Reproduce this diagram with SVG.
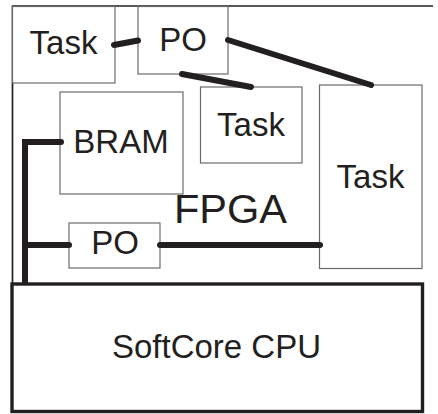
<svg xmlns="http://www.w3.org/2000/svg" width="438" height="414" viewBox="0 0 438 414">
<style>
.box{fill:#fff;stroke:#6b6b6b;stroke-width:1.2}
.lbl{font-family:"Liberation Sans",Arial,sans-serif;font-size:33px;fill:#231f20;text-anchor:middle}
.wire{fill:none;stroke:#231f20;stroke-width:6;stroke-linecap:round;stroke-linejoin:miter}
</style>
<rect width="438" height="414" fill="#fff"/>
<g id="fpga">
<path d="M433,6 H12.5 V290" fill="none" stroke="#231f20" stroke-width="1.7"/>
<text x="230.5" y="223" class="lbl" style="font-size:41.5px">FPGA</text>
</g>
<g id="task1"><rect class="box" x="12.5" y="6.5" width="102.5" height="76.5"/><text class="lbl" x="63.5" y="54">Task</text></g>
<g id="po1"><rect class="box" x="138" y="6.5" width="90" height="67.5"/><text class="lbl" x="183" y="51">PO</text></g>
<g id="task2"><rect class="box" x="200.5" y="87" width="101.5" height="76"/><text class="lbl" x="251" y="136">Task</text></g>
<g id="task3"><rect class="box" x="319.5" y="85" width="102.5" height="183.5"/><text class="lbl" x="370.5" y="188">Task</text></g>
<g id="bram"><rect class="box" x="60" y="92" width="123" height="102"/><text class="lbl" x="121" y="153">BRAM</text></g>
<g id="po2"><rect class="box" x="69" y="223" width="91" height="45"/><text class="lbl" x="115" y="254">PO</text></g>
<g id="cpu"><rect x="12" y="284" width="410.5" height="127.5" fill="#fff" stroke="#231f20" stroke-width="3.4"/><text class="lbl" x="216.5" y="358">SoftCore CPU</text></g>
<g id="connectors">
<path class="wire" d="M114,45 L138,40.5"/>
<path class="wire" d="M228,40 L371,85"/>
<path class="wire" d="M182,74 L251,87"/>
<path class="wire" d="M61,142 H25 V284" style="stroke-linecap:butt"/>
<circle cx="61" cy="142" r="3" fill="#231f20"/>
<path class="wire" d="M25,245 H69"/>
<path class="wire" d="M160,245 H320"/>
</g>
</svg>
